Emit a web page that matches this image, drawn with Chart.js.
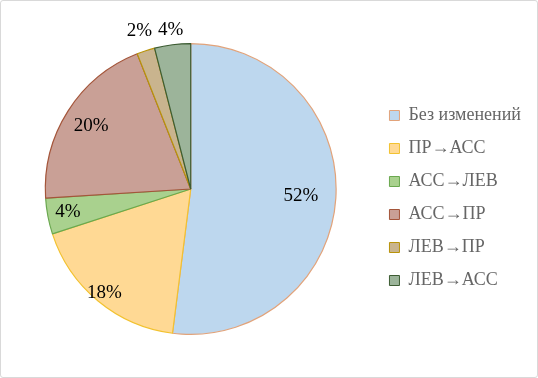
<!DOCTYPE html>
<html>
<head>
<meta charset="utf-8">
<script src="https://cdn.jsdelivr.net/npm/chart.js@4.4.0/dist/chart.umd.min.js"></script>
<style>
  html, body { margin: 0; padding: 0; background: #fff; }
  #wrap {
    position: absolute; left: 0; top: 0;
    width: 536px; height: 376px;
    border: 1px solid #d9d9d9; border-radius: 3px;
  }
</style>
</head>
<body>
<div id="wrap"><canvas id="PieChart" width="536" height="376"></canvas></div>
<script>
const labels = ['Без изменений', 'ПР→АСС', 'АСС→ЛЕВ', 'АСС→ПР', 'ЛЕВ→ПР', 'ЛЕВ→АСС'];
const shares = [52, 18, 4, 20, 2, 4];

const fillColors = ['#bdd7ee', '#ffd994', '#a9d18e', '#c9a096', '#c9b48e', '#9cb49a'];
const edgeColors = ['#e2a37a', '#f2c230', '#6aa84f', '#a4553a', '#b8930a', '#3d5c33'];
// how far out each label sits, as a share of the radius
const labelRadius = [0.76, 0.93, 0.86, 0.81, 1.14, 1.1];

const pieLabels = {
    id: 'pieLabels',
    afterDatasetsDraw(chart) {
        const ctx = chart.ctx;
        const meta = chart.getDatasetMeta(0);
        ctx.save();
        ctx.font = '19px "Liberation Serif", "Times New Roman", serif';
        ctx.fillStyle = '#000';
        ctx.textAlign = 'center';
        ctx.textBaseline = 'middle';
        meta.data.forEach((arc, i) => {
            const p = arc.getProps(['x', 'y', 'startAngle', 'endAngle', 'outerRadius'], true);
            const mid = (p.startAngle + p.endAngle) / 2;
            const r = p.outerRadius * labelRadius[i];
            ctx.fillText(shares[i] + '%', p.x + Math.cos(mid) * r, p.y + Math.sin(mid) * r);
        });
        ctx.restore();
    }
};

const config = {
    type: 'pie',
    data: {
        labels: labels,
        datasets: [{
            data: shares,
            backgroundColor: fillColors,
            borderColor: edgeColors,
            borderWidth: 1.2
        }]
    },
    options: {
        responsive: false,
        animation: false,
        layout: {
            padding: { top: 42, bottom: 42, left: 6, right: 6 }
        },
        plugins: {
            legend: {
                position: 'right',
                align: 'center',
                title: {
                    display: true,
                    text: ' ',
                    padding: 3,
                    font: { size: 10 }
                },
                labels: {
                    boxWidth: 10,
                    boxHeight: 10,
                    padding: 15,
                    color: '#000',
                    font: { family: '"Liberation Serif", "Times New Roman", serif', size: 18 },
                    generateLabels(chart) {
                        return labels.map((l, i) => ({
                            text: l,
                            fillStyle: fillColors[i],
                            strokeStyle: edgeColors[i],
                            lineWidth: 1,
                            index: i
                        }));
                    }
                }
            },
            tooltip: { enabled: false }
        }
    },
    plugins: [pieLabels]
};

const chart = new Chart(document.getElementById('PieChart'), config);
</script>
</body>
</html>
